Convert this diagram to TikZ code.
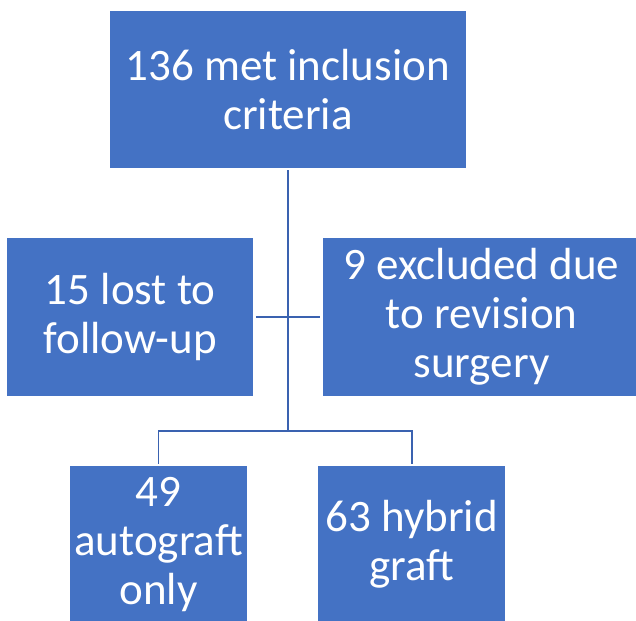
\documentclass[tikz,border=0pt]{standalone}
\usepackage{fontspec}
\setmainfont{Carlito}
\definecolor{boxblue}{HTML}{4472C4}
\definecolor{lineblue}{HTML}{3A62B0}

\begin{document}
\begin{tikzpicture}[x=1pt,y=-1pt,
  box/.style={fill=boxblue, text=white, inner sep=0pt, outer sep=2.5pt,
    align=center, font=\fontsize{45}{49}\selectfont},
  link/.style={draw=lineblue, line width=1.8pt}]

\useasboundingbox (0,0) rectangle (636,620);
\clip (0,0) rectangle (636,620);

% boxes
\node[box, minimum width=355.5pt, minimum height=157pt] (incl) at (287.8,89.2) {136 met inclusion\\criteria};
\node[box, minimum width=246.3pt, minimum height=158pt] (lost) at (130.2,317) {15 lost to\\follow-up};
\node[box, minimum width=317.6pt, minimum height=158pt] (excl) at (481.5,317) {9 excluded due\\to revision\\surgery};
\node[box, minimum width=177.5pt, minimum height=157pt] (auto) at (158.5,544.5) {49\\autograft\\only};
\node[box, minimum width=186.7pt, minimum height=157pt] (hyb) at (411.7,544.5) {63 hybrid\\graft};

\coordinate (split) at (287.8,431);

% connectors
\draw[link] (incl.south) -- (split);
\draw[link] (lost.east) -- (excl.west);
\draw[link] (auto.north) |- (split) -| (hyb.north);

\end{tikzpicture}
\end{document}
